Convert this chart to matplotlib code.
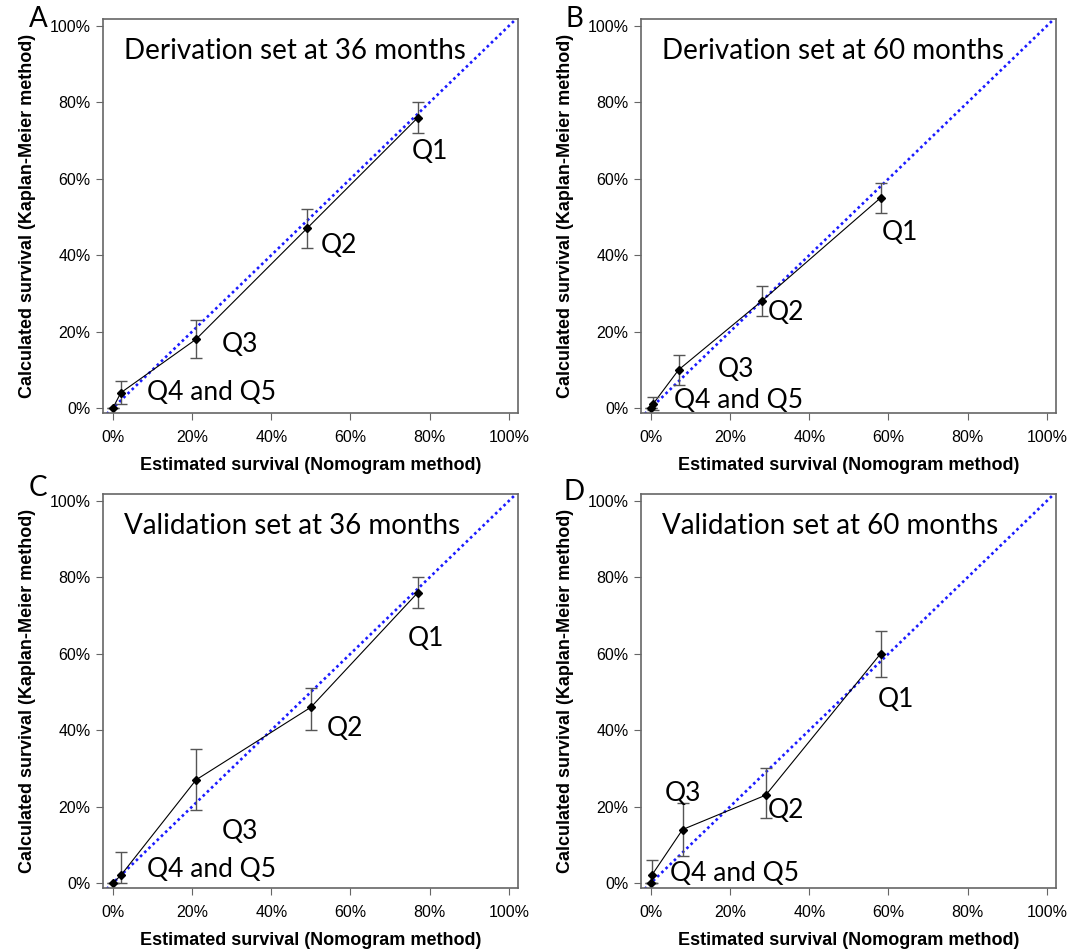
import matplotlib.pyplot as plt
from matplotlib.ticker import PercentFormatter

plt.rcParams["font.family"] = ["Liberation Sans", "DejaVu Sans"]

# estimated (x) vs Kaplan-Meier (y), with lower/upper error bounds
A_x = [0.0, 0.02, 0.21, 0.49, 0.77]
A_y = [0.0, 0.04, 0.18, 0.47, 0.76]
A_lo = [0.0, 0.01, 0.13, 0.42, 0.72]
A_hi = [0.0, 0.07, 0.23, 0.52, 0.80]

B_x = [0.0, 0.005, 0.07, 0.28, 0.58]
B_y = [0.0, 0.01, 0.10, 0.28, 0.55]
B_lo = [0.0, -0.005, 0.06, 0.24, 0.51]
B_hi = [0.0, 0.03, 0.14, 0.32, 0.59]

C_x = [0.0, 0.02, 0.21, 0.50, 0.77]
C_y = [0.0, 0.02, 0.27, 0.46, 0.76]
C_lo = [0.0, 0.0, 0.19, 0.40, 0.72]
C_hi = [0.0, 0.08, 0.35, 0.51, 0.80]

D_x = [0.0, 0.002, 0.08, 0.29, 0.58]
D_y = [0.0, 0.02, 0.14, 0.23, 0.60]
D_lo = [0.0, 0.0, 0.07, 0.17, 0.54]
D_hi = [0.0, 0.06, 0.21, 0.30, 0.66]

TITLES = ["Derivation set at 36 months", "Derivation set at 60 months",
          "Validation set at 36 months", "Validation set at 60 months"]
LETTERS = ["A", "B", "C", "D"]
LABELS = ["Q1", "Q2", "Q3", "Q4 and Q5"]
LABEL_POS = [
    [(0.80, 0.67), (0.57, 0.425), (0.32, 0.165), (0.25, 0.04)],
    [(0.63, 0.46), (0.34, 0.25), (0.215, 0.10), (0.22, 0.02)],
    [(0.79, 0.64), (0.585, 0.405), (0.32, 0.135), (0.25, 0.035)],
    [(0.62, 0.48), (0.34, 0.19), (0.08, 0.235), (0.21, 0.025)],
]

W, H = 1077, 951
# axes boxes in pixels: left, top, right, bottom
BOXES = [(103, 19, 518, 413), (641, 19, 1056, 413),
         (103, 494, 518, 888), (641, 494, 1056, 888)]
LETTER_POS = [(38, 19), (574, 19), (38, 488), (574, 492)]

FRAME = "#666666"


def panel(ax, x, y, lo, hi, title, label_pos):
    ax.plot([-0.1, 1.2], [-0.1, 1.2], color="#1a1aff", ls=(0, (1, 1.2)), lw=1.9)
    ax.plot(x, y, color="black", lw=0.8)
    yerr = [[yy - l for yy, l in zip(y, lo)], [h - yy for yy, h in zip(y, hi)]]
    ax.errorbar(x, y, yerr=yerr, fmt="none", ecolor="#555555",
                elinewidth=1.0, capsize=4, capthick=1.0)
    ax.plot(x, y, "D", color="black", ms=4.5)

    ax.set_xlim(-0.025, 1.023)
    ax.set_ylim(-0.013, 1.018)
    ticks = [0, 0.2, 0.4, 0.6, 0.8, 1.0]
    ax.set_xticks(ticks)
    ax.set_yticks(ticks)
    ax.xaxis.set_major_formatter(PercentFormatter(1.0, decimals=0))
    ax.yaxis.set_major_formatter(PercentFormatter(1.0, decimals=0))
    ax.tick_params(direction="out", length=5, color=FRAME, labelsize=11.5, pad=4)
    ax.tick_params(axis="x", pad=7)
    for s in ax.spines.values():
        s.set_color(FRAME)
        s.set_linewidth(1.2)

    ax.set_xlabel("Estimated survival (Nomogram method)",
                  fontsize=13, fontweight="bold", labelpad=9)
    ax.set_ylabel("Calculated survival (Kaplan-Meier method)",
                  fontsize=13, fontweight="bold", labelpad=10)

    ax.text(0.05, 0.92, title, transform=ax.transAxes, fontsize=20,
            family="Lato", va="center", ha="left")
    for lab, (lx, ly) in zip(LABELS, label_pos):
        ax.text(lx, ly, lab, fontsize=19, family="Lato", ha="center", va="center")


fig = plt.figure(figsize=(W / 100, H / 100), dpi=100)
data = [(A_x, A_y, A_lo, A_hi), (B_x, B_y, B_lo, B_hi),
        (C_x, C_y, C_lo, C_hi), (D_x, D_y, D_lo, D_hi)]

for i, (l, t, r, b) in enumerate(BOXES):
    ax = fig.add_axes([l / W, 1 - b / H, (r - l) / W, (b - t) / H])
    panel(ax, *data[i], TITLES[i], LABEL_POS[i])
    lx, ly = LETTER_POS[i]
    fig.text(lx / W, 1 - ly / H, LETTERS[i], fontsize=20, family="Lato",
             ha="center", va="center")

fig.savefig("out.png", dpi=100)
